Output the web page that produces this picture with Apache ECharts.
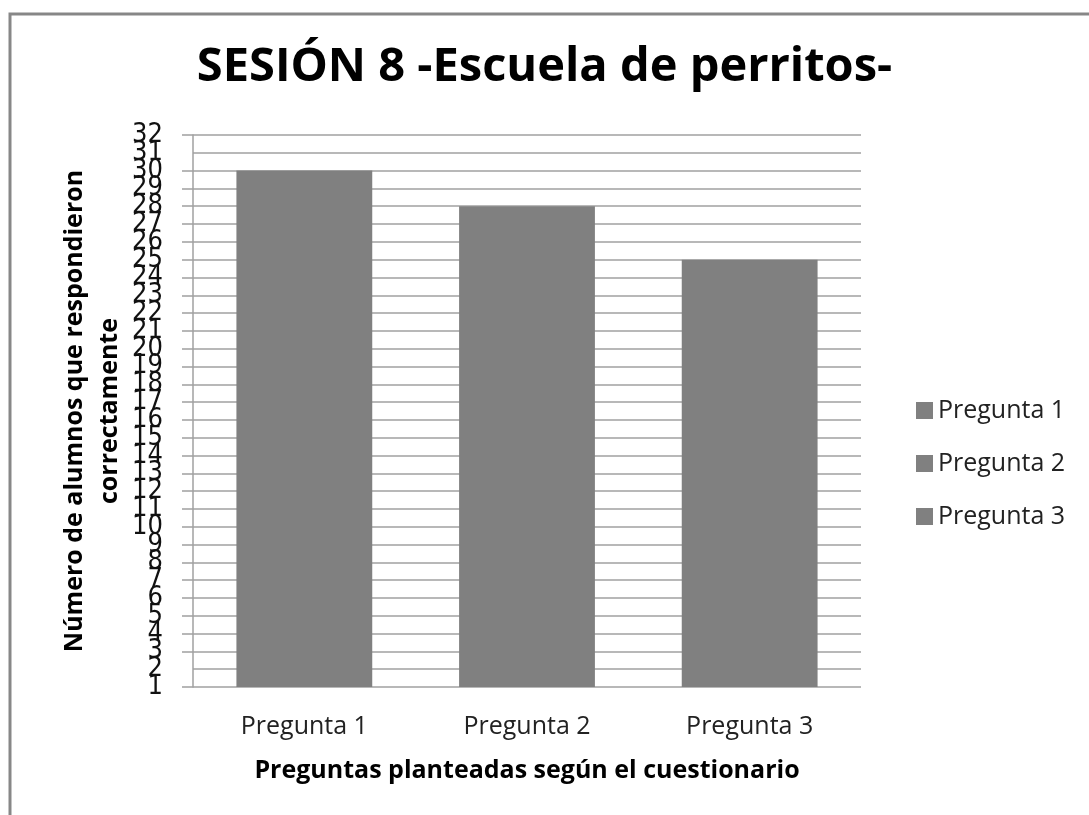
<!DOCTYPE html>
<html>
<head>
<meta charset="utf-8">
<script src="https://cdn.jsdelivr.net/npm/echarts@6/dist/echarts.min.js"></script>
<style>
  html, body { margin: 0; padding: 0; background: #fff; }
  #chart { width: 1089px; height: 815px; }
</style>
</head>
<body>
<div id="chart"></div>
<script>
const categories = ['Pregunta 1', 'Pregunta 2', 'Pregunta 3'];
const values = [30, 28, 25];
const yMin = 1;
const yMax = 32;

const chart = echarts.init(document.getElementById('chart'));

const labelFont = '"Liberation Sans Narrow", "DejaVu Sans Condensed", "DejaVu Sans"';

// one series per question so the legend lists each one
const series = categories.map((name, i) => ({
  name: name,
  type: 'bar',
  stack: 'q',
  barWidth: '61%',
  yAxisIndex: 0,
  itemStyle: { color: '#808080' },
  data: values.map((v, j) => (j === i ? v : '-'))
}));

const option = {
  animation: false,
  backgroundColor: '#fff',
  title: {
    text: 'SESIÓN 8 -Escuela de perritos-',
    left: 'center',
    top: 39,
    textStyle: { fontFamily: 'Open Sans', fontWeight: 'bold', fontSize: 47, color: '#000' }
  },
  graphic: [{
    type: 'rect',
    shape: { x: 10, y: 14, width: 1200, height: 1000 },
    style: { fill: 'none', stroke: '#878787', lineWidth: 3 },
    silent: true
  }],
  legend: {
    orient: 'vertical',
    left: 911,
    top: 393,
    itemGap: 28,
    itemWidth: 17,
    itemHeight: 17,
    icon: 'rect',
    textStyle: { fontFamily: 'Open Sans', fontSize: 25, color: '#222' },
    data: categories
  },
  grid: { left: 193, right: 228, top: 135, bottom: 128 },
  xAxis: {
    type: 'category',
    data: categories,
    name: 'Preguntas planteadas según el cuestionario',
    nameLocation: 'middle',
    nameGap: 71,
    nameMoveOverlap: false,
    nameTextStyle: { fontFamily: 'Open Sans', fontWeight: 'bold', fontSize: 25, color: '#000' },
    axisLine: { show: false },
    axisTick: { show: false },
    axisLabel: { fontFamily: 'Open Sans', fontSize: 25, color: '#222', margin: 27 }
  },
  yAxis: [{
    type: 'value',
    min: yMin,
    max: yMax,
    interval: 1,
    name: 'Número de alumnos que respondieron\ncorrectamente',
    nameLocation: 'middle',
    nameGap: 66,
    nameMoveOverlap: false,
    nameTextStyle: { fontFamily: 'Open Sans', fontWeight: 'bold', fontSize: 25, color: '#000', lineHeight: 35 },
    axisLine: { show: true, lineStyle: { color: '#a0a0a0', width: 1.5 } },
    axisTick: { show: true, length: 11, lineStyle: { color: '#a0a0a0', width: 1.5 } },
    splitLine: { show: true, lineStyle: { color: '#a0a0a0', width: 1.5 } },
    axisLabel: {
      margin: 30,
      showMinLabel: true,
      showMaxLabel: true,
      hideOverlap: false,
      fontFamily: labelFont,
      fontSize: 27,
      color: '#111'
    }
  }, {
    // overlay axis: the labels next to min/max that the first axis drops
    type: 'value',
    position: 'left',
    min: yMin,
    max: yMax,
    interval: 1,
    axisLine: { show: false },
    axisTick: { show: false },
    splitLine: { show: false },
    axisLabel: {
      margin: 30,
      showMinLabel: false,
      showMaxLabel: false,
      hideOverlap: false,
      fontFamily: labelFont,
      fontSize: 27,
      color: '#111',
      formatter: (v) => (v === yMin + 1 || v === yMax - 1 ? String(v) : '')
    }
  }],
  series: series
};

chart.setOption(option);
</script>
</body>
</html>
